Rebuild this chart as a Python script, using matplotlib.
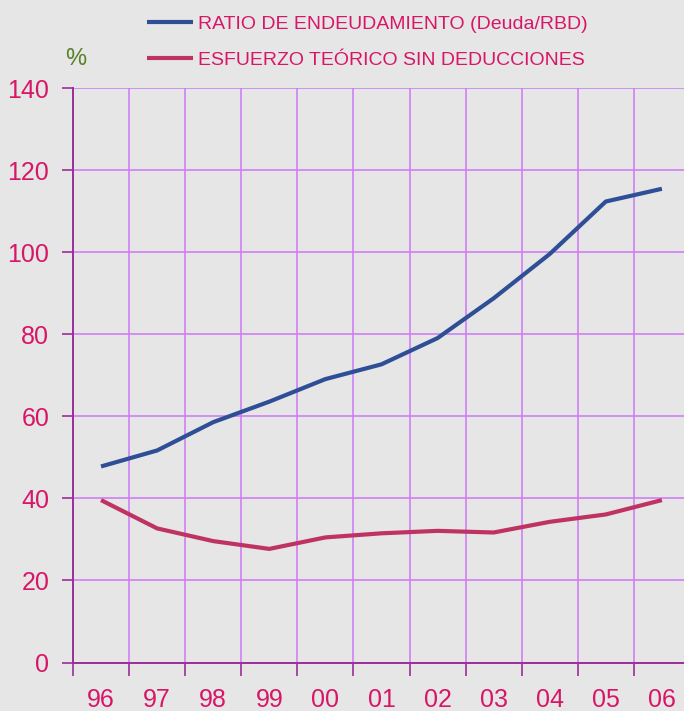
import numpy as np
import matplotlib.pyplot as plt

plt.rcParams['font.family'] = ['Liberation Sans', 'DejaVu Sans']

years = ["96", "97", "98", "99", "00", "01", "02", "03", "04", "05", "06"]
ratio_endeudamiento = [47.8, 51.7, 58.6, 63.6, 69.1, 72.7, 79.1, 88.8, 99.6, 112.4, 115.5]
esfuerzo_teorico = [39.6, 32.7, 29.6, 27.7, 30.5, 31.5, 32.1, 31.7, 34.3, 36.1, 39.6]
labels = ["RATIO DE ENDEUDAMIENTO (Deuda/RBD)", "ESFUERZO TEÓRICO SIN DEDUCCIONES"]

bg = "#E6E6E6"
grid_col = "#CF7FF5"
axis_col = "#9B2C9B"
text_col = "#D81668"

fig = plt.figure(figsize=(6.84, 7.11), dpi=100, facecolor=bg)
ax = fig.add_axes([0.1067, 0.0682, 0.902, 0.8076], facecolor=bg)

x = np.arange(len(years))
l1, = ax.plot(x, ratio_endeudamiento, color="#2E4F96", lw=3, solid_capstyle='butt')
l2, = ax.plot(x, esfuerzo_teorico, color="#BF3362", lw=3, solid_capstyle='butt')

ax.set_xlim(-0.5, len(years) - 0.5)
ax.set_ylim(0, 140)

# gridlines sit on the category boundaries, labels in between
ax.set_xticks(np.arange(len(years) + 1) - 0.5)
ax.set_xticklabels([])
ax.set_xticks(x, minor=True)
ax.set_xticklabels(years, minor=True)
ax.set_yticks(np.arange(0, 141, 20))

ax.grid(True, which='major', color=grid_col, lw=1.2)
ax.set_axisbelow(True)
ax.tick_params(axis='x', which='major', direction='out', length=9, width=1.2, color=axis_col)
ax.tick_params(axis='x', which='minor', length=0, pad=18, labelsize=18, labelcolor=text_col)
ax.tick_params(axis='y', direction='out', length=8, width=1.2, color=axis_col,
               labelsize=18, labelcolor=text_col, pad=9)

for side in ['top', 'right']:
    ax.spines[side].set_visible(False)
for side in ['left', 'bottom']:
    ax.spines[side].set_color(axis_col)
    ax.spines[side].set_linewidth(1.4)

fig.text(0.095, 0.917, "%", color="#5B7F2A", fontsize=17, ha='left', va='center')

fig.legend([l1, l2], labels, loc='upper left', bbox_to_anchor=(0.19, 1.003),
           frameon=False, fontsize=14, labelcolor=text_col, handlelength=2.32,
           handletextpad=0.3, labelspacing=0.96)

fig.savefig("out.png", dpi=100, facecolor=bg)
